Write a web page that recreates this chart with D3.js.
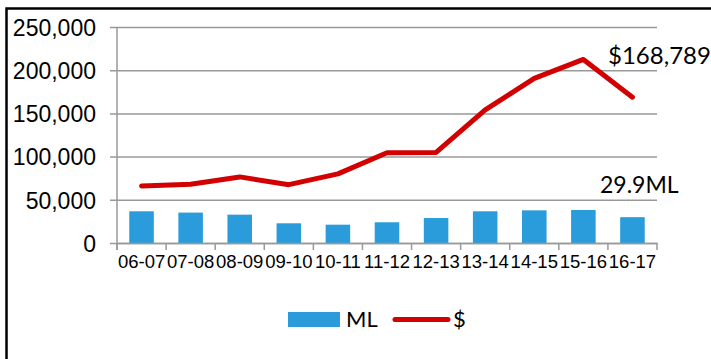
<!DOCTYPE html>
<html>
<head>
<meta charset="utf-8">
<script src="https://cdn.jsdelivr.net/npm/d3@7"></script>
<style>
  body { margin: 0; background: #fff; }
  svg { display: block; }
</style>
</head>
<body>
<div id="chart"></div>
<script>
// financial years
const years = ["06-07", "07-08", "08-09", "09-10", "10-11", "11-12", "12-13", "13-14", "14-15", "15-16", "16-17"] ;
// ML volume (plotted in thousands of litres on the same axis)
const mlValues = [36700, 35200, 32800, 22800, 21200, 24000, 28900, 36700, 37800, 38200, 29900] ;
// dollars
const dollarValues = [66000, 68000, 76500, 67500, 80000, 104500, 104800, 154000, 190500, 212500, 168789] ;
const yTicks = [0, 50000, 100000, 150000, 200000, 250000] ;

const dimensions = {
  width: 711,
  height: 359,
  margin: { top: 27, right: 54, bottom: 116, left: 117 },
} ;
dimensions.boundedWidth = dimensions.width - dimensions.margin.left - dimensions.margin.right ;
dimensions.boundedHeight = dimensions.height - dimensions.margin.top - dimensions.margin.bottom ;

const svg = d3.select("#chart").append("svg")
    .attr("width", dimensions.width)
    .attr("height", dimensions.height)
;

// frame (left and top only)
svg.append("path")
  .attr("d", "M6.5,359 L6.5,8.5 L711,8.5")
  .attr("fill", "none")
  .attr("stroke", "#000")
  .attr("stroke-width", 2.5)
;

const bounds = svg.append("g")
    .attr("transform", `translate(${dimensions.margin.left},${dimensions.margin.top})`)
;

const xScale = d3.scaleBand()
  .domain(years)
  .range([0, dimensions.boundedWidth])
  .paddingInner(0.5)
  .paddingOuter(0.25)
;
const bandScale = d3.scaleBand()
  .domain(years)
  .range([0, dimensions.boundedWidth])
;
const yScale = d3.scaleLinear()
  .domain([0, 250000])
  .range([dimensions.boundedHeight, 0])
;

const gridColor = "#999" ;

// gridlines + y axis
const yAxis = bounds.append("g")
  .call(d3.axisLeft(yScale)
    .tickValues(yTicks)
    .tickSize(-dimensions.boundedWidth)
    .tickSizeOuter(0)
    .tickPadding(21)
    .tickFormat(d3.format(",")))
;
yAxis.select(".domain").remove() ;
yAxis.selectAll(".tick line")
  .attr("x1", -7)
  .attr("stroke", gridColor)
  .attr("stroke-width", 1.5) ;
yAxis.selectAll(".tick text")
  .attr("fill", "#000")
  .style("font-family", "'Liberation Sans', Arial, sans-serif")
  .style("font-size", "23px")
  .attr("dy", "0.36em") ;

// left axis line
bounds.append("line")
  .attr("x1", 0).attr("x2", 0)
  .attr("y1", 0).attr("y2", dimensions.boundedHeight + 7)
  .attr("stroke", gridColor)
  .attr("stroke-width", 1.5) ;

// bars
bounds.selectAll("rect.bar")
  .data(mlValues)
  .enter().append("rect")
    .attr("class", "bar")
    .attr("x", (d, i) => xScale(years[i]))
    .attr("y", (d) => yScale(d))
    .attr("width", xScale.bandwidth())
    .attr("height", (d) => dimensions.boundedHeight - yScale(d))
    .attr("fill", "#2a9cdb")
;

// x axis
const xAxis = bounds.append("g")
  .attr("transform", `translate(0,${dimensions.boundedHeight})`)
  .call(d3.axisBottom(bandScale).tickSize(0).tickPadding(12))
;
xAxis.select(".domain")
  .attr("stroke", gridColor)
  .attr("stroke-width", 1.5) ;
xAxis.selectAll(".tick text")
  .attr("fill", "#000")
  .style("font-family", "'Liberation Sans', Arial, sans-serif")
  .style("font-size", "18.5px") ;
// tick marks between categories
const boundaries = years.map((d) => bandScale(d)).concat([dimensions.boundedWidth]) ;
xAxis.selectAll("line.sep")
  .data(boundaries)
  .enter().append("line")
    .attr("class", "sep")
    .attr("x1", (d) => d).attr("x2", (d) => d)
    .attr("y1", 0).attr("y2", 7)
    .attr("stroke", gridColor)
    .attr("stroke-width", 1.5) ;

// dollar line
const lineGen = d3.line()
  .x((d, i) => bandScale(years[i]) + bandScale.bandwidth() / 2)
  .y((d) => yScale(d)) ;
bounds.append("path")
  .datum(dollarValues)
  .attr("d", lineGen)
  .attr("fill", "none")
  .attr("stroke", "#d20000")
  .attr("stroke-width", 5)
  .attr("stroke-linejoin", "round")
  .attr("stroke-linecap", "round") ;

// annotations
const last = years.length - 1 ;
const labelFont = "Lato, 'Open Sans', sans-serif" ;
svg.append("text")
  .attr("x", 608).attr("y", 64)
  .style("font-family", labelFont)
  .style("font-size", "24px")
  .text("$" + d3.format(",")(dollarValues[last])) ;
svg.append("text")
  .attr("x", 600).attr("y", 193)
  .style("font-family", labelFont)
  .style("font-size", "23px")
  .text(d3.format(".1f")(mlValues[last] / 1000) + "ML") ;

// legend
const legend = svg.append("g").attr("transform", "translate(288,312)") ;
legend.append("rect")
  .attr("width", 52).attr("height", 15)
  .attr("fill", "#2a9cdb") ;
legend.append("text")
  .attr("x", 58).attr("y", 15)
  .style("font-family", labelFont)
  .style("font-size", "22px")
  .text("ML") ;
legend.append("line")
  .attr("x1", 107).attr("x2", 160)
  .attr("y1", 7.5).attr("y2", 7.5)
  .attr("stroke", "#d20000")
  .attr("stroke-width", 5)
  .attr("stroke-linecap", "round") ;
legend.append("text")
  .attr("x", 165).attr("y", 15)
  .style("font-family", labelFont)
  .style("font-size", "22px")
  .text("$") ;
</script>
</body>
</html>
